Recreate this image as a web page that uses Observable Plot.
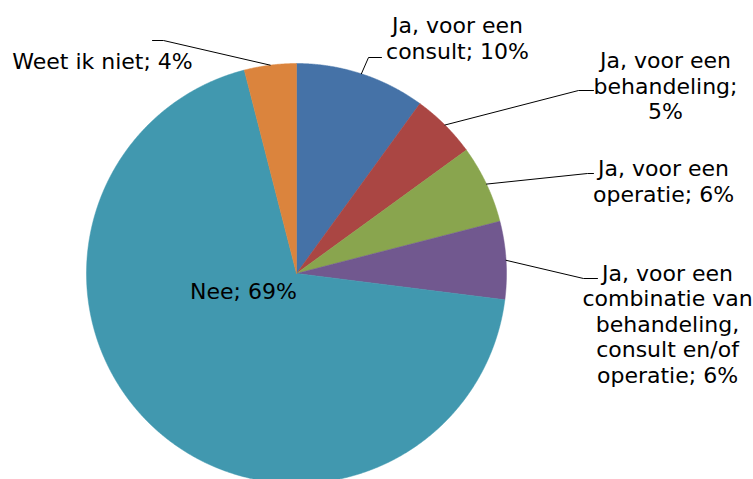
<!DOCTYPE html>
<html><head><meta charset="utf-8">
<script src="https://cdn.jsdelivr.net/npm/d3@7"></script>
<script src="https://cdn.jsdelivr.net/npm/@observablehq/plot@0.6"></script>
<style>html,body{margin:0;padding:0;background:#fff;overflow:hidden}</style>
</head><body><div id="chart"></div>
<script>
// ---- data ----
const categories = ["Ja, voor een consult", "Ja, voor een behandeling", "Ja, voor een operatie",
  "Ja, voor een combinatie van behandeling, consult en/of operatie", "Nee", "Weet ik niet"];
const values = [10, 5, 6, 6, 69, 4];
const labels = ["Ja, voor een\nconsult; 10%", "Ja, voor een\nbehandeling;\n5%", "Ja, voor een\noperatie; 6%",
  "Ja, voor een\ncombinatie van\nbehandeling,\nconsult en/of\noperatie; 6%", "Nee; 69%", "Weet ik niet; 4%"];
const colors = ["#4572A7", "#AA4643", "#89A54E", "#71588F", "#4198AF", "#DB843D"];

// ---- layout ----
const W = 753, H = 479, cx = 296, cy = 273, R = 210;
const labelPos = [[457, 37.5], [665, 85], [663, 180.5], [667, 323], [243, 290], [102, 60]];
const leaderBends = [[[368, 57], [381, 57]], [[578, 90], [593, 90]], [[587, 173], [593, 173]],
  [[583, 278], [597, 278]], null, [[163, 40], [152, 40]]];

const arcs = d3.pie().sort(null).value(d => d)(values);

const slicePts = [];
arcs.forEach((a, i) => {
  slicePts.push({k: i, x: cx, y: cy});
  const n = Math.max(2, Math.ceil((a.endAngle - a.startAngle) / (Math.PI / 720)));
  for (let j = 0; j <= n; j++) {
    const t = a.startAngle + (a.endAngle - a.startAngle) * j / n;
    slicePts.push({k: i, x: cx + R * Math.sin(t), y: cy - R * Math.cos(t)});
  }
  slicePts.push({k: i, x: cx, y: cy});
});

const leaderPts = [];
arcs.forEach((a, i) => {
  if (!leaderBends[i]) return;
  const m = (a.startAngle + a.endAngle) / 2;
  leaderPts.push({k: i, x: cx + R * Math.sin(m), y: cy - R * Math.cos(m)});
  leaderBends[i].forEach(p => leaderPts.push({k: i, x: p[0], y: p[1]}));
});

const labelData = categories.map((c, i) => ({cat: c, text: labels[i], x: labelPos[i][0], y: labelPos[i][1]}));

const chart = Plot.plot({
  width: W, height: H, margin: 0,
  x: {domain: [0, W], range: [0, W], axis: null},
  y: {domain: [0, H], range: [0, H], axis: null},
  color: {type: "identity"},
  style: {background: "#fff", overflow: "visible"},
  marks: [
    Plot.line(slicePts, {x: "x", y: "y", z: "k", fill: d => colors[d.k], stroke: d => colors[d.k], strokeWidth: 0.5, curve: "linear"}),
    Plot.line(leaderPts, {x: "x", y: "y", z: "k", stroke: "#000", strokeWidth: 1, curve: "linear"}),
    Plot.text(labelData, {x: "x", y: "y", text: "text", fontSize: 22, lineHeight: 1.16, textAnchor: "middle",
      fill: "#000", fontFamily: "Verdana, 'DejaVu Sans', sans-serif"})
  ]
});
document.getElementById("chart").appendChild(chart);
</script>
</body></html>
